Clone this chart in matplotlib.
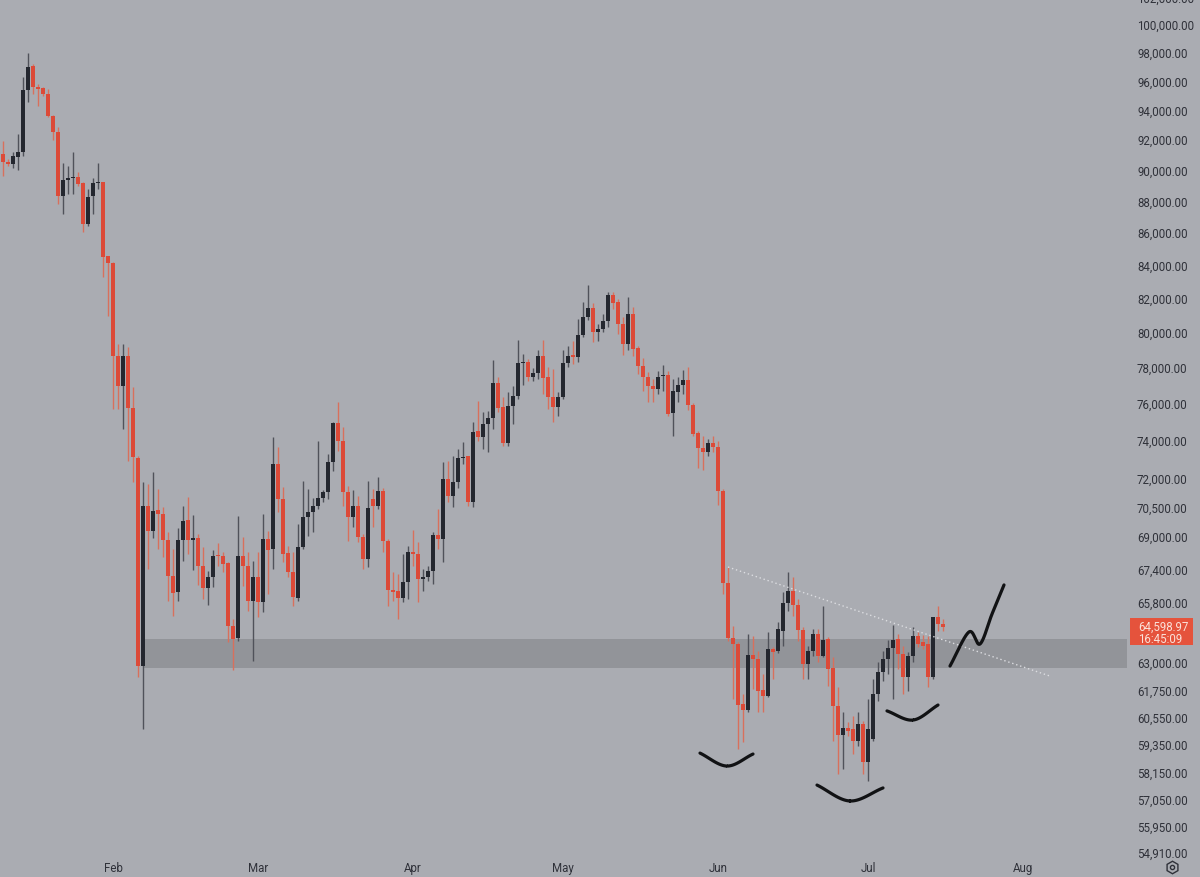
import numpy as np
import pandas as pd
import matplotlib
matplotlib.use("Agg")
import matplotlib.pyplot as plt
from matplotlib.transforms import blended_transform_factory, ScaledTranslation
from matplotlib.patches import Rectangle
from matplotlib.lines import Line2D

# ---------------- data ----------------
start_date = "2024-01-10"

opens = [91010, 90490, 90360, 90810, 91140, 95330, 97000, 95540, 95470, 95050,
         93550, 92470, 88280, 89310, 89440, 89510, 89120, 86510, 88280, 89120,
         89180, 84530, 84100, 78620, 76930, 78620, 75710, 73020, 62800, 70520,
         69250, 70320, 70110, 68800, 67030, 66260, 68800, 69810, 68800, 68900,
         67520, 66450, 66980, 68060, 68010, 67670, 64650, 64090, 68010, 67520,
         65830, 66980, 65780, 68850, 68360, 72700, 70880, 68160, 67230, 65970,
         68450, 69960, 70210, 70520, 70930, 71240, 72800, 74890, 73920, 71240,
         69960, 70520, 68950, 67860, 70880, 70520, 71290, 68750, 66360, 66310,
         65970, 66740, 68210, 68110, 66890, 66980, 67280, 69050, 68850, 71910,
         71030, 71760, 73020, 73120, 70720, 74460, 74140, 74840, 75160, 77090,
         75760, 73810, 75820, 76370, 78220, 78280, 77430, 77650, 78620, 77430,
         76320, 75760, 76320, 78220, 78670, 78560, 79820, 80870, 81400, 80000,
         80170, 80640, 82170, 81750, 80460, 79300, 81050, 79070, 78050, 77430,
         76930, 76760, 77490, 77540, 75440, 76590, 76980, 77260, 75870, 74350,
         73550, 73330, 73810, 73600, 71290, 66690, 64090, 63810, 61100, 60830,
         63300, 63120, 61720, 61450, 63580, 63490, 64410, 65730, 66310, 65640,
         64460, 62890, 63490, 64270, 63260, 64040, 62710, 61010, 59740, 60040,
         60000, 59480, 60220, 58580, 59560, 61540, 62530, 63120, 63620, 64040,
         63350, 62300, 63260, 64180, 63900, 63810, 62300, 65070, 64740]

highs = [91870, 90680, 91140, 92340, 96230, 97920, 97150, 95750, 95540, 95400,
         93620, 92810, 90420, 90230, 91140, 89830, 89180, 88730, 89440, 90420,
         89180, 84530, 84160, 79300, 79300, 79130, 76870, 73120, 71760, 71650,
         72280, 71390, 70470, 69200, 68360, 69400, 70520, 70980, 70060, 69100,
         68450, 67280, 68310, 68650, 68210, 67720, 64980, 70010, 68950, 68210,
         67760, 68210, 70110, 69250, 74130, 73600, 71500, 68500, 68210, 69600,
         71810, 71390, 70930, 73920, 71340, 73230, 74950, 76040, 74670, 71550,
         71340, 71030, 69100, 71810, 71390, 72020, 71450, 68850, 67230, 67130,
         68110, 68500, 69300, 68700, 67370, 67520, 69200, 70370, 72800, 72860,
         73120, 73490, 73870, 73120, 74950, 76100, 75490, 75550, 78390, 77430,
         76320, 76590, 76930, 79530, 78730, 78450, 77940, 78960, 79530, 77990,
         77880, 76590, 78960, 79190, 79480, 80750, 81750, 82770, 81700, 80460,
         81050, 82350, 82350, 81930, 80870, 82050, 81460, 79190, 78500, 77710,
         77320, 77770, 78110, 77770, 77320, 77430, 77820, 77990, 75980, 74460,
         74190, 74030, 74190, 73920, 71390, 67470, 64650, 63900, 61540, 64270,
         64180, 63490, 62440, 64370, 63670, 64830, 66260, 67230, 66980, 65920,
         64600, 63720, 64510, 64510, 65590, 64130, 63210, 61850, 60740, 60300,
         60570, 60740, 60350, 61320, 62210, 62980, 63490, 63990, 64690, 64270,
         63720, 63440, 64600, 64370, 64230, 64180, 65070, 65590, 64980]

lows = [89570, 90230, 90100, 89960, 90880, 94510, 95050, 94230, 94920, 93480,
        91940, 87770, 87140, 88410, 88410, 88920, 86010, 86380, 87140, 88730,
        83250, 80930, 75650, 75650, 74570, 72860, 71760, 62300, 60000, 67370,
        68900, 68360, 67960, 65830, 65120, 65830, 67760, 68110, 67320, 66600,
        65920, 65640, 66500, 67520, 67230, 63900, 62620, 63950, 66550, 65350,
        63030, 65070, 65310, 66160, 67370, 70210, 67720, 66980, 65590, 65830,
        68360, 69000, 69200, 70370, 70720, 70880, 72330, 73390, 70520, 68750,
        69450, 68700, 67370, 67470, 69450, 70370, 68210, 65590, 65830, 64980,
        65780, 65920, 67520, 65780, 66310, 66790, 66640, 68360, 67720, 70720,
        70470, 71440, 72700, 70520, 70470, 73920, 73490, 73330, 74570, 75490,
        73650, 73650, 74840, 76210, 76980, 77210, 77210, 77320, 76480, 75650,
        74950, 75270, 76210, 77990, 78160, 78280, 79710, 80700, 79420, 79480,
        80000, 80290, 81340, 79880, 78670, 78960, 78620, 77600, 76650, 76040,
        76040, 76480, 76650, 75270, 74190, 76040, 76480, 75600, 74190, 72490,
        72380, 73120, 73330, 70570, 66160, 63950, 61320, 59130, 59440, 60740,
        61760, 60740, 60740, 61400, 62210, 63390, 63720, 65350, 65120, 63950,
        62210, 62210, 63260, 62980, 63210, 61900, 59480, 58070, 58280, 59690,
        58920, 59260, 58070, 57780, 59480, 61230, 62120, 62440, 61320, 62660,
        61540, 61670, 62980, 63670, 63580, 61850, 62210, 64410, 64410]

closes = [90490, 90360, 90880, 91140, 95330, 96930, 95540, 95400, 95050, 93550,
          92470, 88280, 89310, 89440, 89510, 89050, 86510, 88220, 89120, 89180,
          84470, 84100, 78620, 76930, 78620, 75710, 73070, 62800, 70520, 69250,
          70260, 70110, 68800, 67030, 66210, 68800, 69760, 68800, 68900, 67520,
          66450, 66980, 68010, 68010, 67620, 64650, 64040, 68010, 67520, 65830,
          66980, 65780, 68850, 68310, 72700, 70880, 68110, 67230, 66020, 68450,
          69960, 70210, 70520, 70930, 71240, 72800, 74890, 73920, 71240, 69960,
          70520, 68950, 67860, 70420, 70520, 71290, 68750, 66360, 66260, 65970,
          66740, 68210, 68110, 66890, 66980, 67280, 69050, 68850, 71910, 71030,
          71760, 73020, 73070, 70720, 74400, 74140, 74840, 75160, 77090, 75710,
          73810, 75820, 76370, 78220, 78280, 77430, 77650, 78620, 77370, 76320,
          75760, 76320, 78220, 78620, 78560, 79820, 80870, 81400, 80000, 80170,
          80640, 82170, 81700, 80460, 79300, 81050, 79020, 78050, 77430, 76930,
          76760, 77430, 77540, 75380, 76650, 76980, 77260, 75870, 74300, 73550,
          73330, 73810, 73600, 71290, 66690, 64090, 63810, 61050, 60830, 63300,
          63120, 61670, 61450, 63580, 63440, 64510, 65730, 66310, 65640, 64460,
          62890, 63490, 64270, 63260, 63990, 62660, 61010, 59740, 60040, 59910,
          59480, 60220, 58580, 60000, 61540, 62530, 63120, 63620, 63990, 63350,
          62300, 63260, 64180, 63810, 63720, 62300, 65070, 64740, 64598.97]

last_price_text = "64,598.97"
countdown_text = "16:45:09"

ytick_values = [100000, 98000, 96000, 94000, 92000, 90000, 88000, 86000, 84000,
                82000, 80000, 78000, 76000, 74000, 72000, 70500, 69000, 67400,
                65800, 63000, 61750, 60550, 59350, 58150, 57050, 55950, 54910]
partial_top_tick = 102000
month_starts = pd.date_range("2024-02-01", "2024-08-01", freq="MS")

support_zone = (62710, 64040)
support_start_index = 28

trend_x = [145, 209.4]
trend_y = [67470, 62345]

arc1_x = [139.4, 144.8, 150.0]
arc1_y = [58960, 58410, 58920]
arc2_x = [162.8, 169.4, 176.0]
arc2_y = [57610, 56950, 57490]
arc3_x = [176.8, 182.0, 187.0]
arc3_y = [60790, 60390, 61050]
squiggle_x = [189.4, 193.2, 195.4, 197.8, 200.2]
squiggle_y = [62800, 64370, 63810, 65210, 66600]

# ---------------- style ----------------
BG = "#aaacb2"
BAND = "#929499"
RED = "#dc4a38"
RED_WICK = "#d8705c"
DARK = "#24272f"
DARK_WICK = "#50525a"
TXT = "#2f3139"
LABEL_RED = "#e5533c"
FONT = ["Roboto", "DejaVu Sans"]
FS = 8.3

plt.rcParams["font.family"] = FONT

W, H = 1200, 878
fig = plt.figure(figsize=(W / 100, H / 100), dpi=100, facecolor=BG)
ax = fig.add_axes([0, 20 / H, 1127 / W, 858 / H])
ax.set_facecolor(BG)

O = np.array(opens, float)
Hh = np.array(highs, float)
L = np.array(lows, float)
C = np.array(closes, float)
x = np.arange(len(O))
up = C >= O

# wicks
ax.vlines(x[up], L[up], Hh[up], colors=DARK_WICK, lw=1.0, zorder=3)
ax.vlines(x[~up], L[~up], Hh[~up], colors=RED_WICK, lw=1.0, zorder=3)
# bodies
bot = np.minimum(O, C)
top = np.maximum(O, C)
top = np.maximum(top, bot * 1.0009)
ax.bar(x[up], (top - bot)[up], bottom=bot[up], width=0.72, color=DARK, lw=0, zorder=4)
ax.bar(x[~up], (top - bot)[~up], bottom=bot[~up], width=0.72, color=RED, lw=0, zorder=4)

ax.set_yscale("log")
x_left, x_right = -0.6, 224.8
ax.set_xlim(x_left, x_right)
ax.set_ylim(54684, 101828)

# support zone
ax.add_patch(Rectangle((support_start_index, support_zone[0]),
                       x_right - support_start_index,
                       support_zone[1] - support_zone[0],
                       facecolor=BAND, edgecolor="none", zorder=1))

# dotted trend line
ax.plot(trend_x, trend_y, color="#dcdde1", lw=1.0, ls=(0, (1, 2)), zorder=5)


def smooth(xs, ys, n=40):
    pts = np.column_stack([np.asarray(xs, float), np.log(np.asarray(ys, float))])
    pts = np.vstack([2 * pts[0] - pts[1], pts, 2 * pts[-1] - pts[-2]])
    out = []
    t = np.linspace(0, 1, n)[:, None]
    for k in range(1, len(pts) - 2):
        p0, p1, p2, p3 = pts[k - 1], pts[k], pts[k + 1], pts[k + 2]
        seg = 0.5 * ((2 * p1) + (-p0 + p2) * t + (2 * p0 - 5 * p1 + 4 * p2 - p3) * t ** 2
                     + (-p0 + 3 * p1 - 3 * p2 + p3) * t ** 3)
        out.append(seg)
    out = np.vstack(out)
    return out[:, 0], np.exp(out[:, 1])


for xs, ys in [(arc1_x, arc1_y), (arc2_x, arc2_y), (arc3_x, arc3_y), (squiggle_x, squiggle_y)]:
    sx, sy = smooth(xs, ys)
    ax.plot(sx, sy, color="#111214", lw=2.3, solid_capstyle="round", zorder=6)

# axes styling
for s in ax.spines.values():
    s.set_visible(False)
ax.yaxis.tick_right()
ax.yaxis.set_minor_locator(matplotlib.ticker.NullLocator())
ax.set_yticks(ytick_values)
ax.set_yticklabels([f"{v:,.2f}" for v in ytick_values])
start = pd.Timestamp(start_date)
mpos = [(d - start).days for d in month_starts]
ax.set_xticks(mpos)
ax.set_xticklabels([d.strftime("%b") for d in month_starts])
ax.tick_params(axis="y", length=0, pad=7.2, labelsize=FS, labelcolor=TXT)
ax.tick_params(axis="x", length=0, pad=3.0, labelsize=FS, labelcolor=TXT)

tr = blended_transform_factory(ax.transAxes, ax.transData) + \
    ScaledTranslation(7.2 / 72, 0, fig.dpi_scale_trans)
ax.text(1.0, partial_top_tick, f"{partial_top_tick:,.2f}", transform=tr,
        fontsize=FS, color=TXT, va="center_baseline", ha="left", clip_on=False)

# last price label
fig.canvas.draw()
py = ax.transData.transform((0, C[-1]))[1]  # display px from bottom
rect_x0 = 1130
rect = Rectangle((rect_x0 / W, (py - 18) / H), 63 / W, 27 / H,
                 transform=fig.transFigure, facecolor=LABEL_RED, edgecolor="none", zorder=10)
fig.patches.append(rect)
fig.text(1138 / W, (py + 1) / H, last_price_text, fontsize=FS, color="#fbe1d9",
         va="center", ha="left", zorder=11)
fig.text(1138 / W, (py - 11.5) / H, countdown_text, fontsize=FS, color="#fbe1d9",
         va="center", ha="left", zorder=11)

# settings icon
fig.add_artist(Line2D([1172 / W], [1 - 868 / H], marker="h", ms=9, mfc="none",
                      mec=TXT, mew=1.0, transform=fig.transFigure))
fig.add_artist(Line2D([1172 / W], [1 - 868 / H], marker="o", ms=3, mfc="none",
                      mec=TXT, mew=1.0, transform=fig.transFigure))

fig.savefig("out.png", dpi=100, facecolor=BG)
